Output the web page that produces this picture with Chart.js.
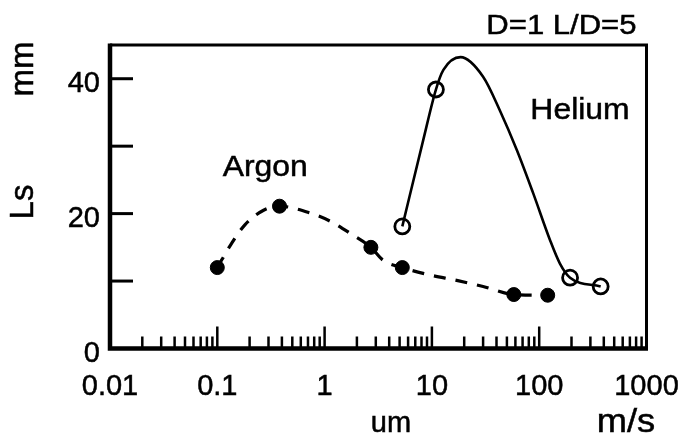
<!DOCTYPE html>
<html>
<head>
<meta charset="utf-8">
<script src="https://cdn.jsdelivr.net/npm/chart.js@4/dist/chart.umd.min.js"></script>
<style>
  html, body { margin: 0; padding: 0; background: #fff; }
  #wrap { width: 682px; height: 437px; }
</style>
</head>
<body>
<div id="wrap"><canvas id="lsChart"></canvas></div>
<script>
// measured points (u_m in m/s, Ls in mm)
var argonU = [0.1, 0.38, 2.7, 5.3, 58, 120];
var argonLs = [12.0, 21.1, 15.0, 12.0, 8.0, 7.9];
var heliumU = [5.3, 10.9, 194, 374];
var heliumLs = [18.1, 38.4, 10.5, 9.2];

// hand drawn fitting curves
var argonCurveU = [0.1, 0.136, 0.18, 0.27, 0.38, 0.76, 1.15, 1.76, 2.7, 3.5, 5.3, 9.6, 17, 30, 58, 120];
var argonCurveLs = [12.0, 15.6, 18.3, 20.5, 21.1, 20.0, 18.8, 17.0, 15.0, 13.1, 12.0, 10.9, 10.1, 9.2, 8.0, 7.9];
var heliumCurveU = [5.3, 8.3, 10.9, 12.8, 18.5, 30, 43, 62, 88, 126, 156, 194, 374];
var heliumCurveLs = [18.1, 30.9, 38.4, 41.3, 43.2, 40.3, 35.3, 29.4, 23.0, 16.1, 12.6, 10.5, 9.2];

// axes
var xTickValues = [0.01, 0.1, 1, 10, 100, 1000];
var xTickLabels = ["0.01", "0.1", "1", "10", "100", "1000"];
var yTickValues = [0, 10, 20, 30, 40];
var yTickLabels = ["0", "", "20", "", "40"];

var FONT = "'Liberation Sans', Arial, Helvetica, sans-serif";

function pairs(xs, ys) {
  var out = [];
  for (var i = 0; i < xs.length; i++) {
    out.push({x: xs[i], y: ys[i]});
  }
  return out;
}

// the scan is a bit wide and heavy, so stretch text sideways and thicken it
function wideText(ctx, str, x, y, sx) {
  ctx.save();
  ctx.translate(x, y);
  ctx.scale(sx, 1);
  ctx.strokeText(str, 0, 0);
  ctx.fillText(str, 0, 0);
  ctx.restore();
}

// frame + inward tick marks
var frameTicks = {
  id: 'frameTicks',
  afterDatasetsDraw: function(chart) {
    var ctx = chart.ctx, a = chart.chartArea;
    var xs = chart.scales.x, ys = chart.scales.y;
    ctx.save();
    ctx.strokeStyle = '#000';
    ctx.lineCap = 'butt';

    ctx.lineWidth = 2.5;
    for (var d = 0; d < xTickValues.length - 1; d++) {
      for (var k = 2; k <= 9; k++) {
        var px = xs.getPixelForValue(xTickValues[d] * k);
        ctx.beginPath();
        ctx.moveTo(px, a.bottom);
        ctx.lineTo(px, a.bottom - 12);
        ctx.stroke();
      }
    }
    xTickValues.forEach(function(v) {
      var px = xs.getPixelForValue(v);
      ctx.beginPath();
      ctx.moveTo(px, a.bottom);
      ctx.lineTo(px, a.bottom - 22);
      ctx.stroke();
    });
    ctx.lineWidth = 3;
    yTickValues.forEach(function(v) {
      var py = ys.getPixelForValue(v);
      ctx.beginPath();
      ctx.moveTo(a.left, py);
      ctx.lineTo(a.left + 23, py);
      ctx.stroke();
    });

    // box: heavy left/bottom axes, lighter top/right
    ctx.lineWidth = 3;
    ctx.beginPath();
    ctx.moveTo(a.left, a.top);
    ctx.lineTo(a.right, a.top);
    ctx.lineTo(a.right, a.bottom);
    ctx.stroke();
    ctx.lineWidth = 4.5;
    ctx.beginPath();
    ctx.moveTo(a.left, a.top - 1.5);
    ctx.lineTo(a.left, a.bottom);
    ctx.lineTo(a.right + 1.5, a.bottom);
    ctx.stroke();
    ctx.restore();
  }
};

// labels and titles
var texts = {
  id: 'texts',
  afterDraw: function(chart) {
    var ctx = chart.ctx, a = chart.chartArea;
    var xs = chart.scales.x, ys = chart.scales.y;
    ctx.save();
    ctx.fillStyle = '#000';
    ctx.strokeStyle = '#000';
    ctx.lineWidth = 0.5;
    ctx.textBaseline = 'alphabetic';

    ctx.textAlign = 'center';
    ctx.font = '29px ' + FONT;
    wideText(ctx, 'Argon', xs.getPixelForValue(0.28), ys.getPixelForValue(25.6), 1.1);
    wideText(ctx, 'Helium', xs.getPixelForValue(240), ys.getPixelForValue(34.1), 1.1);

    ctx.textAlign = 'right';
    ctx.font = '27px ' + FONT;
    wideText(ctx, 'D=1 L/D=5', a.right - 10, a.top - 11, 1.15);

    ctx.textAlign = 'center';
    ctx.font = '29px ' + FONT;
    wideText(ctx, 'um', 391, a.bottom + 83, 1.0);
    ctx.font = '33px ' + FONT;
    wideText(ctx, 'm/s', 626, a.bottom + 83, 1.1);

    ctx.font = '33px ' + FONT;
    ctx.translate(33, 0);
    ctx.rotate(-Math.PI / 2);
    ctx.strokeText('Ls', -202, 0);
    ctx.fillText('Ls', -202, 0);
    ctx.strokeText('mm', -69, 0);
    ctx.fillText('mm', -69, 0);
    ctx.restore();
  }
};

var ctx = document.getElementById('lsChart').getContext('2d');
new Chart(ctx, {
  type: 'scatter',
  data: {
    datasets: [
      {
        label: 'Argon curve',
        data: pairs(argonCurveU, argonCurveLs),
        showLine: true,
        pointRadius: 0,
        borderColor: '#000',
        borderWidth: 3.2,
        borderDash: [12, 10],
        cubicInterpolationMode: 'monotone'
      },
      {
        label: 'Helium curve',
        data: pairs(heliumCurveU, heliumCurveLs),
        showLine: true,
        pointRadius: 0,
        borderColor: '#000',
        borderWidth: 2.6,
        cubicInterpolationMode: 'monotone'
      },
      {
        label: 'Argon',
        data: pairs(argonU, argonLs),
        pointRadius: 7,
        pointBackgroundColor: '#000',
        pointBorderColor: '#000',
        pointBorderWidth: 1
      },
      {
        label: 'Helium',
        data: pairs(heliumU, heliumLs),
        pointRadius: 7.5,
        pointBackgroundColor: '#fff',
        pointBorderColor: '#000',
        pointBorderWidth: 2.8
      }
    ]
  },
  options: {
    responsive: true,
    maintainAspectRatio: false,
    animation: false,
    layout: { padding: { top: 45, right: 35.5, left: 0, bottom: 0 } },
    plugins: {
      legend: { display: false },
      tooltip: { enabled: false }
    },
    scales: {
      x: {
        type: 'logarithmic',
        min: 0.01,
        max: 1000,
        afterBuildTicks: function(s) {
          s.ticks = xTickValues.map(function(v) { return {value: v}; });
        },
        afterFit: function(s) {
          s.height = 88.5;
          s.paddingLeft = 0;
          s.paddingRight = 0;
        },
        grid: { display: false, drawTicks: false },
        border: { display: false },
        ticks: {
          autoSkip: false,
          maxRotation: 0,
          padding: 21,
          color: '#000',
          textStrokeColor: '#000',
          textStrokeWidth: 0.5,
          font: { family: FONT, size: 29 },
          callback: function(v, i) { return xTickLabels[i]; }
        }
      },
      y: {
        min: 0,
        max: 45,
        afterBuildTicks: function(s) {
          s.ticks = yTickValues.map(function(v) { return {value: v}; });
        },
        afterFit: function(s) {
          s.width = 110;
          s.paddingTop = 0;
          s.paddingBottom = 0;
        },
        grid: { display: false, drawTicks: false },
        border: { display: false },
        ticks: {
          padding: 10,
          labelOffset: 5,
          color: '#000',
          textStrokeColor: '#000',
          textStrokeWidth: 0.5,
          font: { family: FONT, size: 29 },
          callback: function(v, i) { return yTickLabels[i]; }
        }
      }
    }
  },
  plugins: [frameTicks, texts]
});
</script>
</body>
</html>
